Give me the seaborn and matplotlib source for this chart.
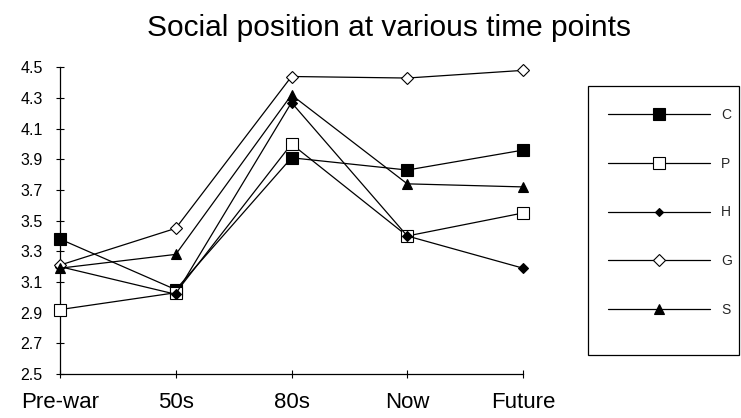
import matplotlib
matplotlib.use("Agg")
import matplotlib.pyplot as plt
from matplotlib.patches import Rectangle
import seaborn as sns
import pandas as pd

# Time points and mean social-position scores per group
periods = ["Pre-war", "50s", "80s", "Now", "Future"]
series_names = ["C", "P", "H", "G", "S"]
C = [3.38, 3.05, 3.91, 3.83, 3.96]
P = [2.92, 3.03, 4.00, 3.40, 3.55]
H = [3.20, 3.02, 4.27, 3.40, 3.19]
G = [3.21, 3.45, 4.44, 4.43, 4.48]
S = [3.19, 3.28, 4.32, 3.74, 3.72]
y_ticks = [2.5, 2.7, 2.9, 3.1, 3.3, 3.5, 3.7, 3.9, 4.1, 4.3, 4.5]

values = {"C": C, "P": P, "H": H, "G": G, "S": S}
df = pd.DataFrame(
    [(name, per, v) for name in series_names for per, v in zip(periods, values[name])],
    columns=["group", "period", "score"],
)

# marker shape, face colour, size (pt)
styles = {
    "C": ("s", "black", 9.0),
    "P": ("s", "white", 9.0),
    "H": ("D", "black", 4.8),
    "G": ("D", "white", 6.4),
    "S": ("^", "black", 7.5),
}

sns.set_theme(style="white")
plt.rcParams["font.family"] = ["Liberation Sans", "DejaVu Sans"]

fig = plt.figure(figsize=(7.41, 4.18), dpi=100)
ax = fig.add_axes([60 / 741, 44 / 418, 463 / 741, 306.7 / 418])

for name in series_names:
    m, fc, ms = styles[name]
    sub = df[df["group"] == name]
    sns.lineplot(
        data=sub, x="period", y="score", ax=ax,
        color="black", linewidth=0.9, marker=m, markersize=ms,
        markerfacecolor=fc, markeredgecolor="black", markeredgewidth=0.8,
        label=name, legend=False, sort=False, clip_on=False, zorder=3,
    )

ax.set_xlim(0, len(periods) - 1)
ax.set_ylim(2.5, 4.5)
ax.set_yticks(y_ticks)
ax.set_yticklabels([f"{t:.1f}" for t in y_ticks], fontsize=11.5)
ax.set_xticks(range(len(periods)))
ax.set_xticklabels(periods, fontsize=16)
ax.set_xlabel("")
ax.set_ylabel("")
ax.tick_params(axis="both", direction="inout", length=6, width=0.8,
               color="black", labelcolor="black", left=True, bottom=True)
ax.tick_params(axis="y", pad=9.5)
ax.tick_params(axis="x", pad=10)
for side in ("top", "right"):
    ax.spines[side].set_visible(False)
for side in ("left", "bottom"):
    ax.spines[side].set_color("black")
    ax.spines[side].set_linewidth(0.9)
ax.set_facecolor("white")

fig.text(389 / 741, 1 - 28 / 418, "Social position at various time points",
         ha="center", va="center", fontsize=21.5, color="black")

# legend box
fig.add_artist(Rectangle((588 / 741, 63 / 418), 151 / 741, 269 / 418,
                         transform=fig.transFigure, fill=False,
                         edgecolor="black", linewidth=0.9))
handles, labels = ax.get_legend_handles_labels()
fig.legend(handles, labels, loc="upper left",
           bbox_to_anchor=(608 / 741, 1 - 108 / 418),
           frameon=False, borderpad=0, borderaxespad=0,
           fontsize=10, handlelength=7.35, handletextpad=0.8,
           labelspacing=2.5, markerscale=0.95)

fig.savefig("out.png", dpi=100, facecolor="white")
